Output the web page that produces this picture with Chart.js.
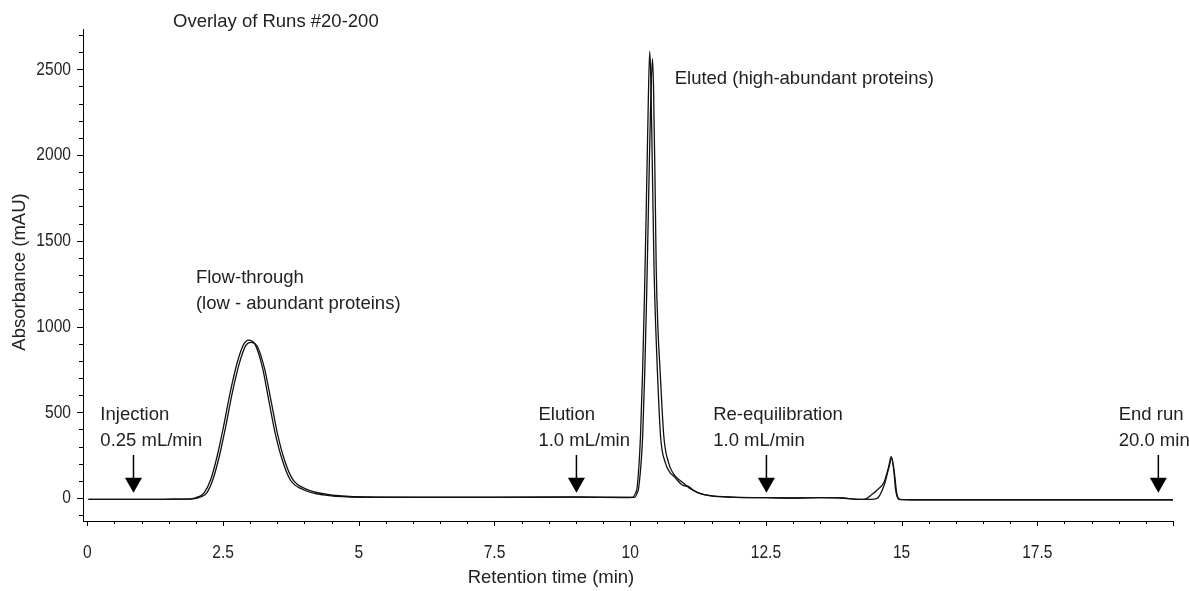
<!DOCTYPE html>
<html>
<head>
<meta charset="utf-8">
<title>Overlay of Runs #20-200</title>
<script src="https://cdn.jsdelivr.net/npm/chart.js@4.4.1/dist/chart.umd.min.js"></script>
<style>
  html, body { margin: 0; padding: 0; background: #fff; }
  #wrap { position: relative; width: 1189px; height: 591px; }
</style>
</head>
<body>
<div id="wrap"><canvas id="chromChart"></canvas></div>
<script>
// Chromatogram overlay

// Run A (earlier / taller trace)
const runATimes = [0.02, 1.0, 1.6, 1.9, 2.05, 2.15, 2.27, 2.39, 2.51, 2.63, 2.76, 2.88, 2.97, 3.09, 3.22, 3.34, 3.46, 3.59, 3.74, 3.99, 4.35, 4.85, 6.0, 7.5, 9.0, 9.9,
  10.04, 10.10, 10.13, 10.19, 10.23, 10.265, 10.30, 10.33, 10.36, 10.38, 10.41, 10.44, 10.47, 10.50, 10.56, 10.65, 10.73, 10.81, 10.96, 11.08, 11.17, 11.3, 11.48, 11.94,
  12.5, 13.0, 13.5, 13.9, 14.2, 14.31, 14.45, 14.55, 14.68, 14.76, 14.81, 14.86, 14.89, 14.95, 15.2, 17.0, 20.0];
const runAValues = [-8, -8, -7, -5, 8, 30, 105, 242, 418, 613, 789, 896, 921, 896, 769, 574, 379, 223, 105, 47, 18, 6, 4, 4, 5, 3,
  4, 30, 66, 359, 750, 1200, 1750, 2250, 2605, 2450, 1900, 1336, 1000, 750, 359, 203, 150, 125, 76, 66, 45, 25, 12, 4,
  2, 0, 2, 0, -8, -8, 20, 47, 95, 180, 242, 150, 47, -8, -10, -10, -10];

// Run B (slightly later / lower trace)
const runBTimes = [0.02, 1.0, 1.6, 1.95, 2.1, 2.2, 2.31, 2.43, 2.55, 2.67, 2.80, 2.92, 3.01, 3.13, 3.26, 3.38, 3.50, 3.63, 3.78, 4.03, 4.4, 4.9, 6.0, 7.5, 9.0, 9.95,
  10.08, 10.13, 10.16, 10.23, 10.27, 10.305, 10.34, 10.37, 10.41, 10.43, 10.46, 10.48, 10.51, 10.55, 10.62, 10.71, 10.78, 10.84, 10.99, 11.1, 11.25, 11.45, 11.9,
  12.5, 13.0, 13.5, 13.9, 14.2, 14.43, 14.55, 14.68, 14.76, 14.82, 14.87, 14.91, 14.97, 15.2, 17.0, 20.0];
const runBValues = [-8, -8, -7, -5, 8, 30, 105, 242, 418, 613, 785, 890, 908, 885, 760, 574, 379, 223, 110, 52, 22, 8, 5, 5, 6, 4,
  4, 30, 66, 359, 750, 1200, 1750, 2200, 2562, 2400, 1800, 1336, 1000, 750, 359, 203, 150, 125, 85, 55, 30, 15, 5,
  2, 0, 2, 0, -8, -8, -2, 76, 170, 232, 140, 30, -8, -10, -10, -10];

// Axis ticks
const xTickValues = [];
for (let t = 0; t <= 20; t += 0.5) xTickValues.push(t);
const xLabelValues = [0, 2.5, 5, 7.5, 10, 12.5, 15, 17.5];
const yTickValues = [];
for (let v = -100; v <= 2700; v += 100) yTickValues.push(v);
const yLabelValues = [0, 500, 1000, 1500, 2000, 2500];

// Annotations (time, absorbance of first text line)
const noteTimes = [0.24, 8.31, 11.53, 19.0, 2.0, 10.82];
const noteValues = [484, 484, 484, 484, 1283, 2443];
const noteLines = [
  ['Injection', '0.25 mL/min'],
  ['Elution', '1.0 mL/min'],
  ['Re-equilibration', '1.0 mL/min'],
  ['End run', '20.0 min'],
  ['Flow-through', '(low - abundant proteins)'],
  ['Eluted (high-abundant proteins)']
];
const arrowTimes = [0.85, 9.01, 12.51, 19.73];

const FONT = "'Liberation Sans', Arial, sans-serif";
const TEXT_COLOR = '#222';

function toPoints(times, values) {
  return times.map((t, i) => ({ x: t, y: values[i] }));
}

// draw text squeezed horizontally (condensed look for tick numbers)
function narrowText(ctx, text, px, py, align) {
  ctx.save();
  ctx.translate(px, py);
  ctx.scale(0.82, 1);
  ctx.textAlign = align;
  ctx.fillText(text, 0, 0);
  ctx.restore();
}

const chromAnnotations = {
  id: 'chromAnnotations',
  afterDraw(chart) {
    const { ctx, chartArea, scales: { x, y } } = chart;
    ctx.save();
    ctx.strokeStyle = '#000';
    ctx.lineWidth = 1;

    // tick marks + labels
    ctx.fillStyle = TEXT_COLOR;
    ctx.font = '19px ' + FONT;
    ctx.textBaseline = 'middle';
    xTickValues.forEach(t => {
      const px = Math.round(x.getPixelForValue(t)) + 0.5;
      const len = (t % 2.5 === 0) ? 5 : 3;
      ctx.beginPath();
      ctx.moveTo(px, chartArea.bottom);
      ctx.lineTo(px, chartArea.bottom + len);
      ctx.stroke();
      if (xLabelValues.includes(t)) {
        narrowText(ctx, String(t), x.getPixelForValue(t), chartArea.bottom + 32, 'center');
      }
    });
    yTickValues.forEach(v => {
      const py = Math.round(y.getPixelForValue(v)) + 0.5;
      const len = (v % 500 === 0) ? 6 : 4;
      ctx.beginPath();
      ctx.moveTo(chartArea.left, py);
      ctx.lineTo(chartArea.left - len, py);
      ctx.stroke();
      if (yLabelValues.includes(v)) {
        narrowText(ctx, String(v), chartArea.left - 12, y.getPixelForValue(v), 'right');
      }
    });

    // arrows
    ctx.fillStyle = '#000';
    arrowTimes.forEach(t => {
      const px = x.getPixelForValue(t);
      const top = y.getPixelForValue(251);
      const headTop = y.getPixelForValue(118);
      const tip = y.getPixelForValue(31);
      ctx.lineWidth = 1.5;
      ctx.beginPath();
      ctx.moveTo(px, top);
      ctx.lineTo(px, headTop + 1);
      ctx.stroke();
      ctx.beginPath();
      ctx.moveTo(px - 8.5, headTop);
      ctx.lineTo(px + 8.5, headTop);
      ctx.lineTo(px, tip);
      ctx.closePath();
      ctx.fill();
    });

    // text notes
    ctx.fillStyle = TEXT_COLOR;
    ctx.font = '18.5px ' + FONT;
    ctx.textAlign = 'left';
    ctx.textBaseline = 'middle';
    noteLines.forEach((lines, i) => {
      const px = x.getPixelForValue(noteTimes[i]);
      const py = y.getPixelForValue(noteValues[i]);
      lines.forEach((line, j) => {
        ctx.fillText(line, px, py + j * 26);
      });
    });

    // title
    ctx.fillText('Overlay of Runs #20-200', chartArea.left + 90, chartArea.top - 7.5);

    // axis titles
    ctx.textAlign = 'center';
    ctx.fillText('Retention time (min)', chartArea.left + 468, chartArea.bottom + 57);
    ctx.translate(20, 272);
    ctx.rotate(-Math.PI / 2);
    ctx.fillText('Absorbance (mAU)', 0, 0);

    ctx.restore();
  }
};

document.addEventListener('DOMContentLoaded', () => {
  const ctx = document.getElementById('chromChart');
  new Chart(ctx, {
    type: 'line',
    data: {
      datasets: [{
        label: 'Run A',
        data: toPoints(runATimes, runAValues),
        borderColor: '#111',
        borderWidth: 1.3,
        pointRadius: 0,
        cubicInterpolationMode: 'monotone',
        fill: false
      }, {
        label: 'Run B',
        data: toPoints(runBTimes, runBValues),
        borderColor: '#111',
        borderWidth: 1.3,
        pointRadius: 0,
        cubicInterpolationMode: 'monotone',
        fill: false
      }]
    },
    options: {
      responsive: true,
      maintainAspectRatio: false,
      animation: false,
      layout: { padding: { top: 29, right: 16, bottom: 0, left: 0 } },
      plugins: {
        legend: { display: false },
        tooltip: { enabled: false }
      },
      scales: {
        x: {
          type: 'linear',
          min: -0.08,
          max: 20,
          afterBuildTicks: scale => { scale.ticks = xTickValues.map(v => ({ value: v })); },
          afterFit: scale => { scale.height = 70; },
          grid: { display: false, drawTicks: false },
          border: { display: true, color: '#000', width: 1 },
          ticks: { display: false }
        },
        y: {
          min: -134,
          max: 2735,
          afterBuildTicks: scale => { scale.ticks = yTickValues.map(v => ({ value: v })); },
          afterFit: scale => { scale.width = 83; },
          grid: { display: false, drawTicks: false },
          border: { display: true, color: '#000', width: 1 },
          ticks: { display: false }
        }
      }
    },
    plugins: [chromAnnotations]
  });
});
</script>
</body>
</html>
